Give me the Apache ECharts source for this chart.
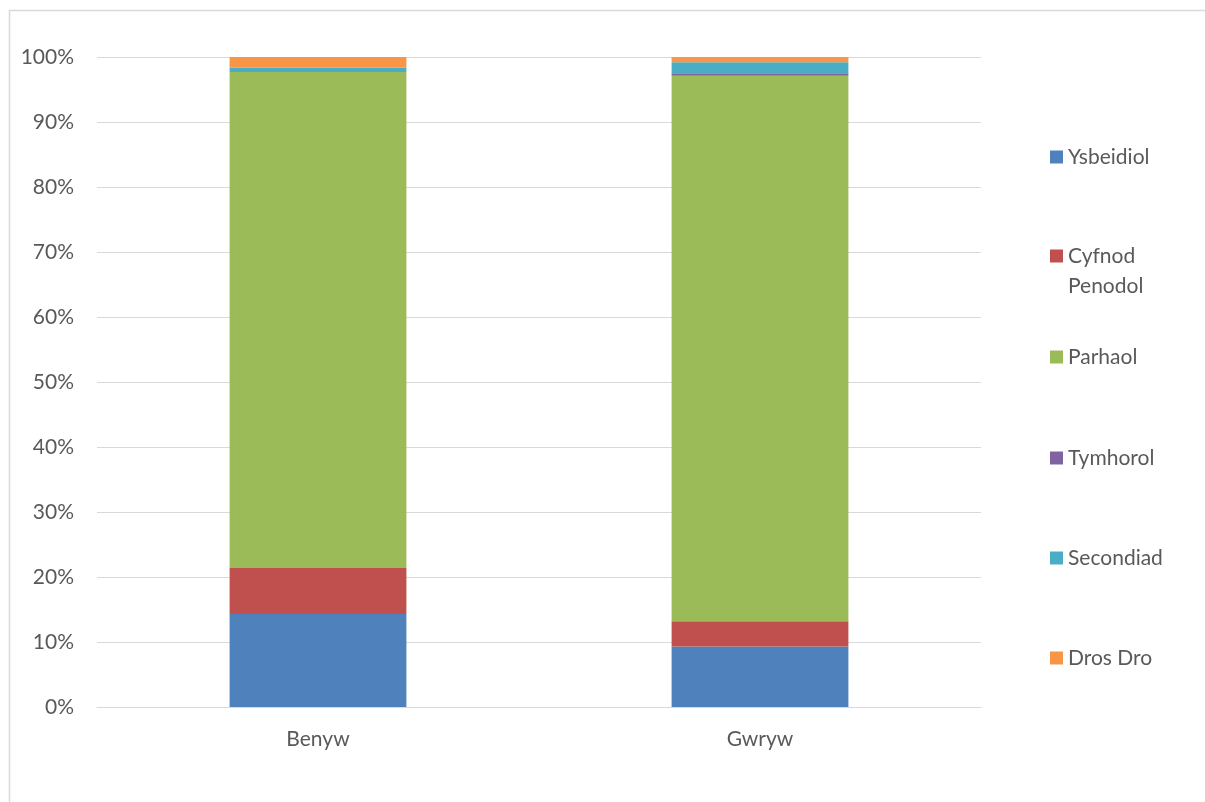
<!DOCTYPE html>
<html>
<head>
<meta charset="utf-8">
<script src="https://cdn.jsdelivr.net/npm/echarts@6/dist/echarts.min.js"></script>
<style>html,body{margin:0;padding:0;background:#fff}#c{width:1205px;height:802px}</style>
</head>
<body>
<div id="c"></div>
<script>
const categories = ['Benyw', 'Gwryw'];
const seriesNames = ['Ysbeidiol', 'Cyfnod Penodol', 'Parhaol', 'Tymhorol', 'Secondiad', 'Dros Dro'];
const ysbeidiol = [14.3, 9.3];
const cyfnodPenodol = [7.1, 3.9];
const parhaol = [76.3, 83.9];
const tymhorol = [0, 0.4];
const secondiad = [0.7, 1.7];
const drosDro = [1.6, 0.8];
const yTicks = [0, 10, 20, 30, 40, 50, 60, 70, 80, 90, 100];

const values = [ysbeidiol, cyfnodPenodol, parhaol, tymhorol, secondiad, drosDro];
const colors = ['#4F81BD', '#C0504D', '#9BBB59', '#8064A2', '#4BACC6', '#F79646'];
const font = 'Lato, "Liberation Sans", sans-serif';
const legendCenters = [152, 251, 352, 453, 553, 653];

const chart = echarts.init(document.getElementById('c'), null, {renderer: 'canvas'});
chart.setOption({
  animation: false,
  backgroundColor: '#fff',
  graphic: [{
    type: 'rect', left: 7, top: 8,
    shape: {x: 0, y: 0, width: 1210, height: 810},
    style: {fill: 'none', stroke: '#D9D9D9', lineWidth: 1.5}
  }],
  grid: {left: 97, right: 224, top: 57, bottom: 95, containLabel: false},
  legend: seriesNames.map((n, i) => {
    const multi = n === 'Cyfnod Penodol';
    return {
      orient: 'vertical', left: 1045,
      top: multi ? legendCenters[i] - 45 : legendCenters[i] - 12,
      data: [n], itemWidth: 13, itemHeight: 13, icon: 'rect',
      selectedMode: false,
      formatter: multi ? ' \nCyfnod\nPenodol' : '{name}',
      textStyle: multi
        ? {color: '#595959', fontSize: 21, fontFamily: font, lineHeight: 30}
        : {color: '#595959', fontSize: 21, fontFamily: font, lineHeight: 24}
    };
  }),
  xAxis: {
    type: 'category', data: categories,
    axisLine: {show: true, lineStyle: {color: '#D9D9D9', width: 1}},
    axisTick: {show: false},
    axisLabel: {color: '#595959', fontSize: 21, fontFamily: font, margin: 22}
  },
  yAxis: {
    type: 'value', min: 0, max: 100, interval: 10,
    axisLine: {show: false}, axisTick: {show: false},
    axisLabel: {color: '#595959', fontSize: 21, fontFamily: font, margin: 23,
      formatter: v => yTicks.includes(v) ? v + '%' : ''},
    splitLine: {lineStyle: {color: '#D9D9D9', width: 1}}
  },
  series: seriesNames.map((n, i) => ({
    name: n, type: 'bar', stack: 'total', barWidth: '40%',
    data: values[i], itemStyle: {color: colors[i]}
  }))
});
</script>
</body>
</html>
